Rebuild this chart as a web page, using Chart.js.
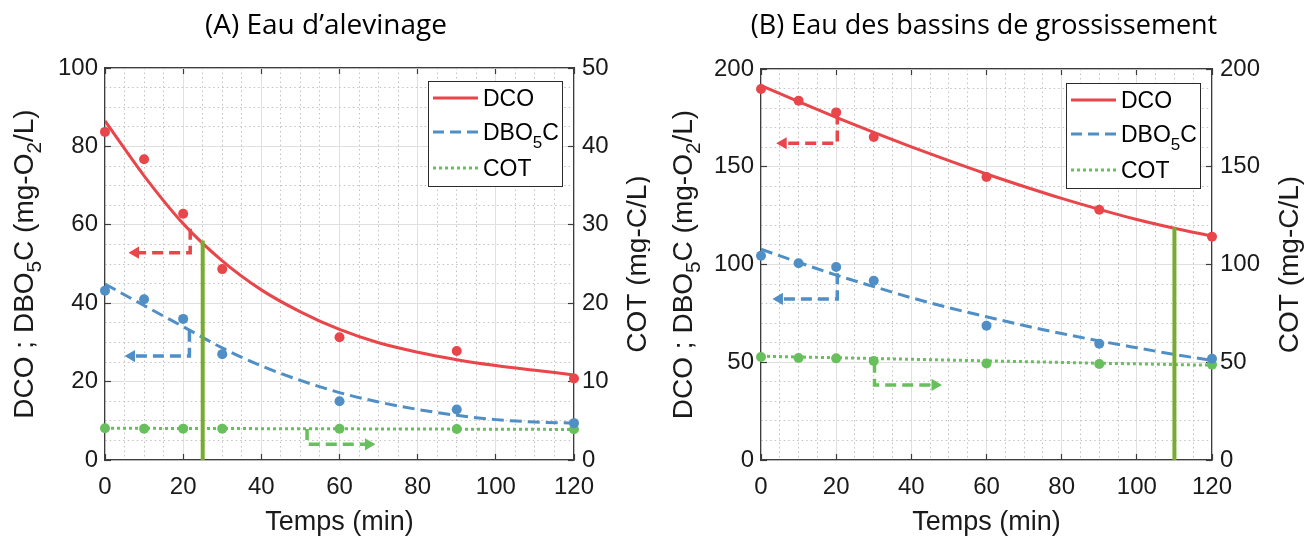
<!DOCTYPE html>
<html>
<head>
<meta charset="utf-8">
<title>DCO, DBO5C et COT en fonction du temps</title>
<script src="https://cdn.jsdelivr.net/npm/chart.js@4.4.1/dist/chart.umd.min.js"></script>
<style>
  html, body { margin: 0; padding: 0; background: #ffffff; }
  #wrap { position: relative; width: 1309px; height: 539px; overflow: hidden; }
  .panel { position: absolute; top: 0; height: 539px; }
  #panelA { left: 0; width: 650px; }
  #panelB { left: 650px; width: 659px; }
</style>
</head>
<body>
<div id="wrap">
  <div class="panel" id="panelA"><canvas id="chartA"></canvas></div>
  <div class="panel" id="panelB"><canvas id="chartB"></canvas></div>
</div>
<script>
// ---- sampling times (min) ----
const sampleTimes = [0, 10, 20, 30, 60, 90, 120];
const curveTimes  = [0, 10, 20, 30, 40, 50, 60, 70, 80, 90, 100, 110, 120];
const timeLabels  = [0, 20, 40, 60, 80, 100, 120];

// ---- (A) Eau d'alevinage ----
const dcoA    = [83.7, 76.7, 62.8, 48.7, 31.3, 27.8, 20.8];
const dboA    = [43.2, 41.0, 36.0, 27.0, 15.0, 12.9, 9.4];
const cotA    = [4.05, 4.0, 4.0, 4.0, 3.98, 3.95, 3.92];
const dcoFitA = [86.5, 72.5, 60.3, 50.8, 43.4, 37.8, 33.3, 29.9, 27.5, 25.6, 24.1, 22.9, 21.7];
const dboFitA = [44.9, 39.4, 34.0, 28.6, 24.0, 20.3, 17.2, 14.8, 12.9, 11.4, 10.3, 9.7, 9.4];
const cotFitA = [4.05, 4.04, 4.02, 4.01, 4.0, 3.99, 3.98, 3.96, 3.95, 3.94, 3.93, 3.91, 3.9];
const leftLabelsA  = [0, 20, 40, 60, 80, 100];
const rightLabelsA = [0, 10, 20, 30, 40, 50];
const markerA   = [[25, 0], [25, 56]];
const arrowDcoA = [[21.8, 59.0], [21.8, 52.9], [7.8, 52.9]];
const arrowDboA = [[21.6, 33.0], [21.6, 26.5], [6.8, 26.5]];
const arrowCotA = [[51.7, 3.95], [51.7, 2.0], [67.4, 2.0]];

// ---- (B) Eau des bassins de grossissement ----
const dcoB    = [189.8, 183.8, 177.8, 165.2, 144.8, 128.0, 114.2];
const dboB    = [104.5, 100.6, 98.7, 91.7, 68.7, 59.5, 51.8];
const cotB    = [52.7, 52.2, 52.0, 50.6, 49.4, 49.1, 48.8];
const dcoFitB = [191.5, 183.3, 175.3, 167.6, 160.2, 153.1, 146.3, 139.9, 133.8, 128.2, 123.0, 118.5, 114.5];
const dboFitB = [107.8, 101.1, 94.6, 88.7, 83.0, 77.9, 73.3, 68.8, 64.7, 60.9, 57.4, 54.0, 50.9];
const cotFitB = [53.1, 52.7, 52.3, 51.9, 51.5, 51.1, 50.7, 50.3, 49.9, 49.5, 49.2, 48.8, 48.5];
const leftLabelsB  = [0, 50, 100, 150, 200];
const rightLabelsB = [0, 50, 100, 150, 200];
const markerB   = [[110, 0], [110, 119]];
const arrowDcoB = [[20.3, 177.3], [20.3, 162.0], [5.9, 162.0]];
const arrowDboB = [[20.3, 95.5], [20.3, 82.4], [4.9, 82.4]];
const arrowCotB = [[30.2, 50.3], [30.2, 38.4], [46.3, 38.4]];

// ---- styling ----
const RED = '#e8464a', BLUE = '#4f8fc6', GREEN = '#68c05d', OLIVE = '#77ac30';
const INK = '#1a1a1a', AXIS = '#3c3c3c';
const MAJOR_GRID = '#e0e0e0', MINOR_GRID = '#c2c2c2';
const SANS = '"Liberation Sans", Arial, sans-serif';
const DASH = [12, 6], DOT = [3, 3];

function xy(xs, ys) { return xs.map((x, i) => ({ x, y: ys[i] })); }
function pts(path) { return path.map(([x, y]) => ({ x, y })); }

function curveSet(label, ys, color, dash, axis) {
  return { label, data: xy(curveTimes, ys), borderColor: color, borderWidth: 3, borderDash: dash,
           pointRadius: 0, cubicInterpolationMode: 'monotone', yAxisID: axis, order: 4, fill: false };
}
function sampleSet(ys, color, axis) {
  return { data: xy(sampleTimes, ys), showLine: false, pointRadius: 5, pointHoverRadius: 5,
           pointBackgroundColor: color, pointBorderWidth: 0, yAxisID: axis, order: 1, clip: false };
}
function arrowSet(path, color, rotation, axis) {
  const last = path.length - 1;
  return { data: pts(path), borderColor: color, borderWidth: 3.5, borderDash: [11, 6], tension: 0,
           pointRadius: path.map((_, i) => i === last ? 7 : 0), pointStyle: 'triangle',
           rotation, pointBackgroundColor: color, pointBorderWidth: 0, yAxisID: axis, order: 3 };
}
function markerSet(path) {
  return { data: pts(path), borderColor: OLIVE, borderWidth: 4, pointRadius: 0, yAxisID: 'y', order: 2 };
}

// major ticks (labelled) vs minor ticks (dotted grid only)
function isMajor(ctx, labels) { return ctx.tick && labels.includes(ctx.tick.value); }

function linearAxis(opts) {
  const { position, min, max, step, labels, onArea, size, padding, title } = opts;
  const horizontal = position === 'top' || position === 'bottom';
  return {
    type: 'linear', position, min, max,
    afterFit: s => { if (horizontal) s.height = size; else s.width = size; },
    ticks: {
      stepSize: step, autoSkip: false, maxRotation: 0, minRotation: 0,
      display: opts.showLabels !== false, padding,
      font: { family: SANS, size: 24 }, color: INK,
      callback: v => labels.includes(v) ? String(v) : ''
    },
    grid: {
      drawOnChartArea: onArea, lineWidth: 1, drawTicks: true, tickLength: -6, tickWidth: 1.2,
      color: c => isMajor(c, labels) ? MAJOR_GRID : MINOR_GRID,
      tickColor: c => isMajor(c, labels) ? AXIS : 'rgba(0,0,0,0)'
    },
    border: { display: true, color: AXIS, width: 1.2, dash: c => (c.tick && !labels.includes(c.tick.value)) ? [1.5, 3] : [] },
    title: title || { display: false }
  };
}

// panel title, rotated axis titles with subscripts, and the boxed legend
function drawRotated(ctx, segs, baseX, centerY, size) {
  const main = size + 'px ' + SANS, sub = (size * 0.74) + 'px ' + SANS;
  ctx.save();
  ctx.translate(baseX, centerY);
  ctx.rotate(-Math.PI / 2);
  ctx.textAlign = 'left';
  ctx.textBaseline = 'alphabetic';
  ctx.fillStyle = INK;
  let total = 0;
  segs.forEach(s => { ctx.font = s.sub ? sub : main; total += ctx.measureText(s.t).width; });
  let x = -total / 2;
  segs.forEach(s => {
    ctx.font = s.sub ? sub : main;
    ctx.fillText(s.t, x, s.sub ? size * 0.3 : 0);
    x += ctx.measureText(s.t).width;
  });
  ctx.restore();
}

function drawRich(ctx, segs, x, y, size) {
  const main = size + 'px ' + SANS, sub = (size * 0.74) + 'px ' + SANS;
  ctx.textAlign = 'left';
  ctx.textBaseline = 'alphabetic';
  ctx.fillStyle = '#000';
  segs.forEach(s => {
    ctx.font = s.sub ? sub : main;
    ctx.fillText(s.t, x, s.sub ? y + size * 0.32 : y);
    x += ctx.measureText(s.t).width;
  });
}

const panelText = {
  id: 'panelText',
  afterDraw(chart, args, o) {
    const ctx = chart.ctx, ca = chart.chartArea;
    const midY = (ca.top + ca.bottom) / 2;
    ctx.save();
    ctx.font = o.titleSize + 'px "Open Sans", "Noto Sans", sans-serif';
    ctx.fillStyle = '#000';
    ctx.textAlign = 'center';
    ctx.textBaseline = 'alphabetic';
    ctx.fillText(o.title, o.titleX, o.titleBaseline);

    drawRotated(ctx, o.leftTitle, o.leftBaseline, midY, o.axisTitleSize);
    drawRotated(ctx, o.rightTitle, o.rightBaseline, midY, o.axisTitleSize);

    // legend box anchored to the top-right corner of the plot area
    const L = o.legend;
    const left = ca.right - L.right - L.width, top = ca.top + L.top;
    ctx.fillStyle = '#ffffff';
    ctx.fillRect(left, top, L.width, L.height);
    ctx.strokeStyle = '#2b2b2b';
    ctx.lineWidth = 1;
    ctx.strokeRect(left + 0.5, top + 0.5, L.width, L.height);
    L.rows.forEach(r => {
      const y = top + r.dy;
      ctx.save();
      ctx.strokeStyle = r.color;
      ctx.lineWidth = 3;
      ctx.setLineDash(r.dash);
      ctx.beginPath();
      ctx.moveTo(left + 5, y);
      ctx.lineTo(left + 50, y);
      ctx.stroke();
      ctx.restore();
      drawRich(ctx, r.text, left + 55, y + L.size * 0.36, L.size);
    });
    ctx.restore();
  }
};

const legendRows = [
  { text: [{ t: 'DCO' }], color: RED, dash: [], dy: 17 },
  { text: [{ t: 'DBO' }, { t: '5', sub: true }, { t: 'C' }], color: BLUE, dash: [11, 6], dy: 51 },
  { text: [{ t: 'COT' }], color: GREEN, dash: DOT, dy: 87 }
];
const leftTitleSegs = [{ t: 'DCO ; DBO' }, { t: '5', sub: true }, { t: 'C (mg-O' }, { t: '2', sub: true }, { t: '/L)' }];
const rightTitleSegs = [{ t: 'COT (mg-C/L)' }];

function makePanel(id, d) {
  return new Chart(document.getElementById(id), {
    type: 'line',
    data: {
      datasets: [
        sampleSet(d.dco, RED, 'y'),
        sampleSet(d.dbo, BLUE, 'y'),
        sampleSet(d.cot, GREEN, 'y2'),
        markerSet(d.marker),
        arrowSet(d.arrowDco, RED, 270, 'y'),
        arrowSet(d.arrowDbo, BLUE, 270, 'y'),
        arrowSet(d.arrowCot, GREEN, 90, 'y2'),
        curveSet('DCO', d.dcoFit, RED, [], 'y'),
        curveSet('DBO5C', d.dboFit, BLUE, DASH, 'y'),
        curveSet('COT', d.cotFit, GREEN, DOT, 'y2')
      ]
    },
    options: {
      responsive: true, maintainAspectRatio: false, animation: false,
      events: [],
      layout: { padding: { top: d.top, left: 0, right: 0, bottom: 0 } },
      scales: {
        x: linearAxis({ position: 'bottom', min: 0, max: 120, step: 5, labels: timeLabels, onArea: true,
                        size: 79, padding: 19,
                        title: { display: true, text: 'Temps (min)', color: INK,
                                 font: { family: SANS, size: 27 }, padding: { top: 0, bottom: 0 } } }),
        x2: Object.assign(linearAxis({ position: 'top', min: 0, max: 120, step: 20, labels: timeLabels,
                        onArea: false, size: 0, padding: 0, showLabels: false }), { axis: 'x' }),
        y: linearAxis({ position: 'left', min: 0, max: d.leftMax, step: d.leftMinor, labels: d.leftLabels,
                        onArea: true, size: d.leftWidth, padding: 13 }),
        y2: linearAxis({ position: 'right', min: 0, max: d.rightMax, step: d.rightStep, labels: d.rightLabels,
                        onArea: false, size: d.rightWidth, padding: 14 })
      },
      plugins: {
        legend: { display: false },
        tooltip: { enabled: false },
        panelText: {
          title: d.title, titleX: d.titleX, titleBaseline: 34, titleSize: d.titleSize,
          leftTitle: leftTitleSegs, leftBaseline: d.leftTitleX,
          rightTitle: rightTitleSegs, rightBaseline: d.rightTitleX,
          axisTitleSize: 28,
          legend: { right: 12, top: d.legendTop, width: 134, height: 105, size: 23, rows: legendRows }
        }
      }
    },
    plugins: [panelText]
  });
}

makePanel('chartA', {
  dco: dcoA, dbo: dboA, cot: cotA, dcoFit: dcoFitA, dboFit: dboFitA, cotFit: cotFitA,
  marker: markerA, arrowDco: arrowDcoA, arrowDbo: arrowDboA, arrowCot: arrowCotA,
  leftMax: 100, leftMinor: 5, leftLabels: leftLabelsA,
  rightMax: 50, rightStep: 10, rightLabels: rightLabelsA,
  top: 68, leftWidth: 105, rightWidth: 76,
  title: '(A) Eau d\u2019alevinage', titleX: 326, titleSize: 28,
  leftTitleX: 33, rightTitleX: 646, legendTop: 13
});

makePanel('chartB', {
  dco: dcoB, dbo: dboB, cot: cotB, dcoFit: dcoFitB, dboFit: dboFitB, cotFit: cotFitB,
  marker: markerB, arrowDco: arrowDcoB, arrowDbo: arrowDboB, arrowCot: arrowCotB,
  leftMax: 200, leftMinor: 10, leftLabels: leftLabelsB,
  rightMax: 200, rightStep: 50, rightLabels: rightLabelsB,
  top: 69, leftWidth: 111, rightWidth: 97,
  title: '(B) Eau des bassins de grossissement', titleX: 334, titleSize: 27,
  leftTitleX: 42, rightTitleX: 648, legendTop: 14
});
</script>
</body>
</html>
